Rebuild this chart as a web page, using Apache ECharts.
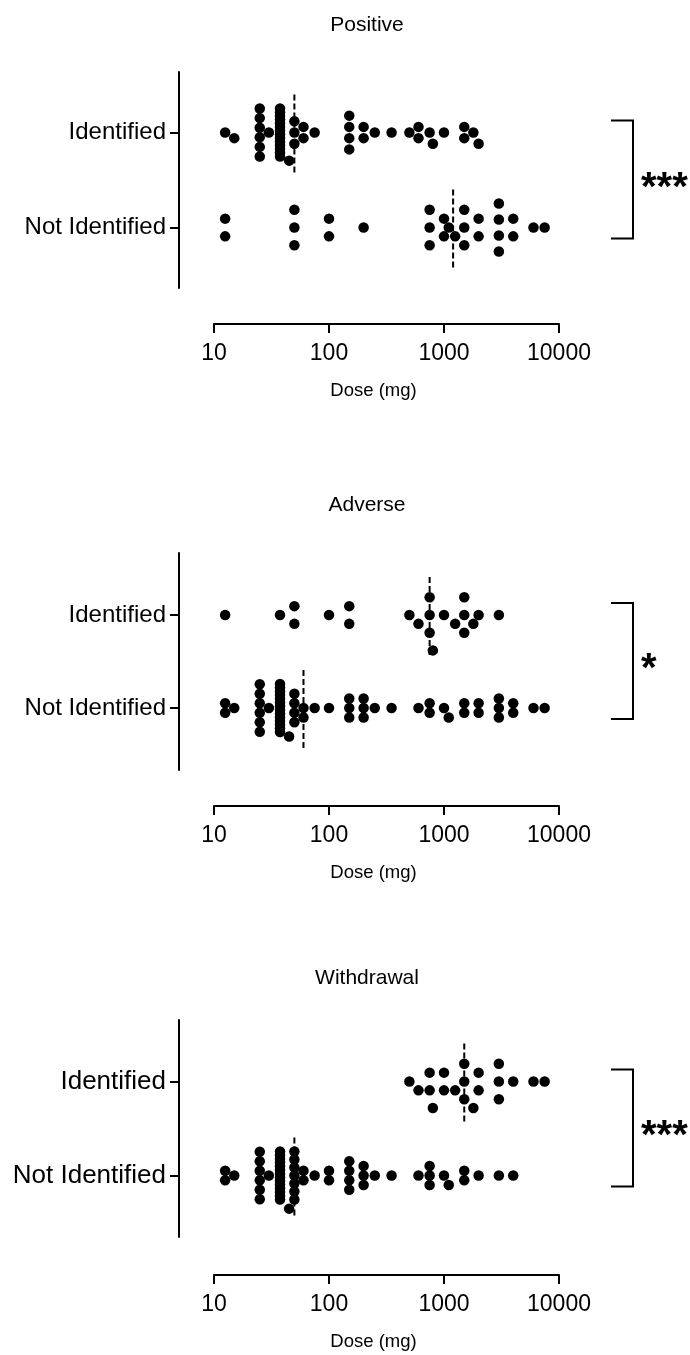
<!DOCTYPE html>
<html><head><meta charset="utf-8">
<script src="https://cdn.jsdelivr.net/npm/echarts@6/dist/echarts.min.js"></script>
<style>html,body{margin:0;padding:0;background:#fff}#c{width:690px;height:1355px}</style>
</head><body><div id="c"></div>
<script>
// ---------- data ----------
const panelTitles = ['Positive', 'Adverse', 'Withdrawal'];
const rowLabels = ['Identified', 'Not Identified'];
const xTicks = [10, 100, 1000, 10000];
const xAxisName = 'Dose (mg)';
const significance = ['***', '*', '***'];

const positiveIdentified = [12.5, 15, 25, 25, 25, 25, 25, 25, 30,
  37.5, 37.5, 37.5, 37.5, 37.5, 37.5, 37.5, 37.5, 37.5, 37.5, 37.5, 37.5, 37.5, 37.5,
  45, 50, 50, 50, 60, 60, 75, 150, 150, 150, 150, 200, 200, 250, 350, 500, 600, 600,
  750, 800, 1000, 1500, 1500, 1800, 2000];
const positiveNotIdentified = [12.5, 12.5, 50, 50, 50, 100, 100, 200, 750, 750, 750,
  1000, 1000, 1100, 1250, 1500, 1500, 1500, 2000, 2000, 3000, 3000, 3000, 3000,
  4000, 4000, 6000, 7500];
const adverseIdentified = [12.5, 37.5, 50, 50, 100, 150, 150, 500, 600, 750, 750, 750,
  800, 1000, 1250, 1500, 1500, 1500, 1800, 2000, 3000];
const adverseNotIdentified = [12.5, 12.5, 15, 25, 25, 25, 25, 25, 25, 30,
  37.5, 37.5, 37.5, 37.5, 37.5, 37.5, 37.5, 37.5, 37.5, 37.5, 37.5, 37.5, 37.5, 37.5,
  45, 50, 50, 50, 50, 60, 60, 75, 100, 150, 150, 150, 200, 200, 200, 250, 350, 600,
  750, 750, 1000, 1100, 1500, 1500, 2000, 2000, 3000, 3000, 3000, 4000, 4000, 6000, 7500];
const withdrawalIdentified = [500, 600, 750, 750, 800, 1000, 1000, 1250, 1500, 1500, 1500,
  1800, 2000, 2000, 3000, 3000, 3000, 4000, 6000, 7500];
const withdrawalNotIdentified = [12.5, 12.5, 15, 25, 25, 25, 25, 25, 25, 30,
  37.5, 37.5, 37.5, 37.5, 37.5, 37.5, 37.5, 37.5, 37.5, 37.5, 37.5, 37.5, 37.5, 37.5,
  45, 50, 50, 50, 50, 50, 50, 50, 60, 60, 75, 100, 100, 150, 150, 150, 150, 200, 200, 200,
  250, 350, 600, 750, 750, 750, 1000, 1100, 1500, 1500, 2000, 3000, 4000];
// medians (dashed lines) [Identified, Not Identified]
const positiveMedians = [50, 1200];
const adverseMedians = [750, 60];
const withdrawalMedians = [1500, 50];

const panelData = [
  [positiveIdentified, positiveNotIdentified, positiveMedians],
  [adverseIdentified, adverseNotIdentified, adverseMedians],
  [withdrawalIdentified, withdrawalNotIdentified, withdrawalMedians]
];

// ---------- layout ----------
const FONT = "'Liberation Sans', Arial, Helvetica, sans-serif";
const PLOT_LEFT = 214, PLOT_WIDTH = 345;
const PX_PER_DECADE = PLOT_WIDTH / 3;
const panels = [
  { top: 72, height: 216, rowSep: 95, titleY: 10, labelSize: 24, tickSize: 23, xOff: 36, nameGap: 57 },
  { top: 553, height: 217, rowSep: 93, titleY: 490, labelSize: 24, tickSize: 23, xOff: 36, nameGap: 57 },
  { top: 1020, height: 217, rowSep: 94, titleY: 963, labelSize: 26, tickSize: 23, xOff: 38, nameGap: 57 }
];

// simple beeswarm: identical values stacked in centred columns, columns shifted to avoid overlap
function swarm(values, center) {
  const N = values.length;
  const step = Math.min(17.7, 540 / N);
  const SPAN = 48, D = 9.5;
  const counts = new Map();
  values.forEach(v => counts.set(v, (counts.get(v) || 0) + 1));
  const cols = [...counts.entries()].map(([v, n]) => ({ v, n, x: Math.log10(v) * PX_PER_DECADE }));
  cols.sort((a, b) => b.n - a.n || a.v - b.v);
  const placed = [], out = [];
  cols.forEach(c => {
    const s = c.n > 1 ? Math.min(step, SPAN / (c.n - 1)) : step;
    const base = [];
    for (let i = 0; i < c.n; i++) base.push((i - (c.n - 1) / 2) * s);
    const h = Math.max(s, step) / 2;
    let shift = 0;
    for (let k = 0; k < 400; k++) {
      const m = k === 0 ? 0 : (k % 2 ? Math.ceil(k / 2) : -Math.ceil(k / 2));
      const sh = m * h;
      const ok = base.every(o => placed.every(p => Math.hypot(p.x - c.x, p.y - (o + sh)) >= D));
      if (ok) { shift = sh; break; }
    }
    base.forEach(o => {
      placed.push({ x: c.x, y: o + shift });
      out.push([c.v, center - (o + shift)]);
    });
  });
  return out;
}

const grids = [], xAxes = [], yAxes = [], series = [], titles = [];
panels.forEach((p, i) => {
  const yMin = -(p.height - p.rowSep) / 2;
  grids.push({ left: PLOT_LEFT, width: PLOT_WIDTH, top: p.top, height: p.height });
  xAxes.push({
    type: 'log', logBase: 10, min: xTicks[0], max: xTicks[xTicks.length - 1], gridIndex: i,
    position: 'bottom', offset: p.xOff,
    axisLine: { show: true, onZero: false, lineStyle: { color: '#000', width: 2 } },
    axisTick: { show: true, length: 9, lineStyle: { color: '#000', width: 2 } },
    minorTick: { show: false }, splitLine: { show: false },
    axisLabel: { color: '#000', fontSize: p.tickSize, fontFamily: FONT, margin: 18,
      formatter: v => String(Math.round(v)) },
    name: xAxisName, nameLocation: 'middle', nameGap: p.nameGap,
    nameTextStyle: { color: '#000', fontSize: 18.5, fontFamily: FONT, padding: [0, 26, 0, 0] }
  });
  yAxes.push({
    type: 'value', gridIndex: i, min: yMin, max: yMin + p.height, offset: 35,
    axisLine: { show: true, onZero: false, lineStyle: { color: '#000', width: 2 } },
    axisTick: { show: true, length: 9, lineStyle: { color: '#000', width: 2 }, customValues: [0, p.rowSep] },
    axisLabel: { color: '#000', fontSize: p.labelSize, fontFamily: FONT, margin: 13,
      customValues: [0, p.rowSep], formatter: v => (v > p.rowSep / 2 ? rowLabels[0] : rowLabels[1]) },
    splitLine: { show: false }
  });
  titles.push({ text: panelTitles[i], left: 362, top: p.titleY, textAlign: 'center',
    textStyle: { color: '#000', fontSize: 21, fontWeight: 'normal', fontFamily: FONT } });
  const [idVals, niVals, med] = panelData[i];
  const rows = [[idVals, p.rowSep, med[0]], [niVals, 0, med[1]]];
  rows.forEach(([vals, c, m]) => {
    series.push({
      type: 'scatter', xAxisIndex: i, yAxisIndex: i, symbol: 'circle', symbolSize: 10.5,
      itemStyle: { color: '#000', opacity: 1 }, silent: true, animation: false, z: 2,
      data: swarm(vals, c)
    });
    series.push({
      type: 'line', xAxisIndex: i, yAxisIndex: i, symbol: 'none', silent: true, animation: false, z: 3,
      lineStyle: { color: '#000', width: 2, type: [6, 3] },
      data: [[m, c - 40], [m, c + 40]]
    });
  });
});

const chart = echarts.init(document.getElementById('c'), null, { renderer: 'canvas' });
chart.setOption({
  backgroundColor: '#fff', animation: false,
  title: titles, grid: grids, xAxis: xAxes, yAxis: yAxes, series
});

// significance brackets
const graphics = [];
panels.forEach((p, i) => {
  const yId = chart.convertToPixel({ gridIndex: i }, [100, p.rowSep])[1];
  const yNi = chart.convertToPixel({ gridIndex: i }, [100, 0])[1];
  const t = yId - 12, b = yNi + 11;
  graphics.push({ type: 'polyline', shape: { points: [[611, t], [633, t], [633, b], [611, b]] },
    style: { stroke: '#000', lineWidth: 2, fill: null } });
  graphics.push({ type: 'text', x: 641, y: (t + b) / 2 + 9,
    style: { text: significance[i], fill: '#000', font: "bold 40px " + FONT, textAlign: 'left', textVerticalAlign: 'middle' } });
});
chart.setOption({ graphic: graphics });
</script></body></html>
